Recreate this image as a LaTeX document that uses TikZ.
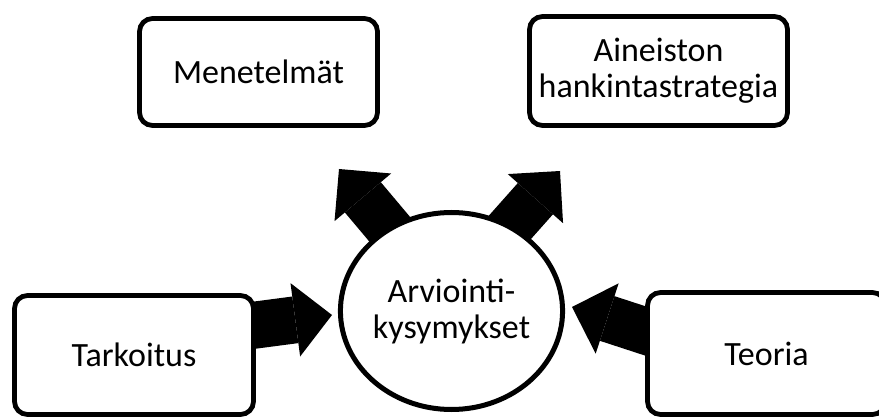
\documentclass[tikz,border=0pt]{standalone}
\usepackage{fontspec}
\setmainfont{Carlito}
\usetikzlibrary{arrows.meta, shapes.geometric, backgrounds}

\begin{document}
\begin{tikzpicture}[
    x = 1pt, y = -1pt,
    every node/.style = {font=\fontsize{34pt}{36pt}\selectfont},
    box/.style = {
        rectangle, rounded corners=13pt, draw, line width=4.8pt,
        fill=white, align=center, inner sep=2pt
    },
    hub/.style = {
        ellipse, draw, line width=5pt, fill=white,
        align=center, inner sep=0pt,
        minimum width=212pt, minimum height=197pt
    },
    arr/.style = {
        line width=47pt,
        -{Triangle[length=37pt, width=74pt, line width=0pt]}
    }
]
\useasboundingbox (0,0) rectangle (879,417);

%% Centre question
\node[hub] (arv) at (451.5,311) {Arviointi-\\kysymykset};

%% Surrounding boxes
\node[box, minimum width=238pt, minimum height=107pt] (men)  at (258.5,72)  {Menetelmät};
\node[box, minimum width=258pt, minimum height=109pt] (ain)  at (658.5,71)  {Aineiston\\hankintastrategia};
\node[box, minimum width=239pt, minimum height=119pt] (tark) at (134,355)   {Tarkoitus};
\node[box, minimum width=238pt, minimum height=122pt] (teo)  at (766.5,353.5) {Teoria};

%% Arrow tips
\coordinate (menTip)  at (339,169);
\coordinate (ainTip)  at (560,171);
\coordinate (tarkTip) at (332,315);
\coordinate (teoTip)  at (572,307);

%% Block arrows, kept under the shapes
\begin{scope}[on background layer]
\draw[arr] ([xshift=7pt]arv.center)   -- (menTip);
\draw[arr] ([xshift=-16pt]arv.center) -- (ainTip);
\draw[arr] ([yshift=14pt]tark.center) -- (tarkTip);
\draw[arr] ([yshift=-17pt]teo.center) -- (teoTip);
\end{scope}

\end{tikzpicture}
\end{document}
